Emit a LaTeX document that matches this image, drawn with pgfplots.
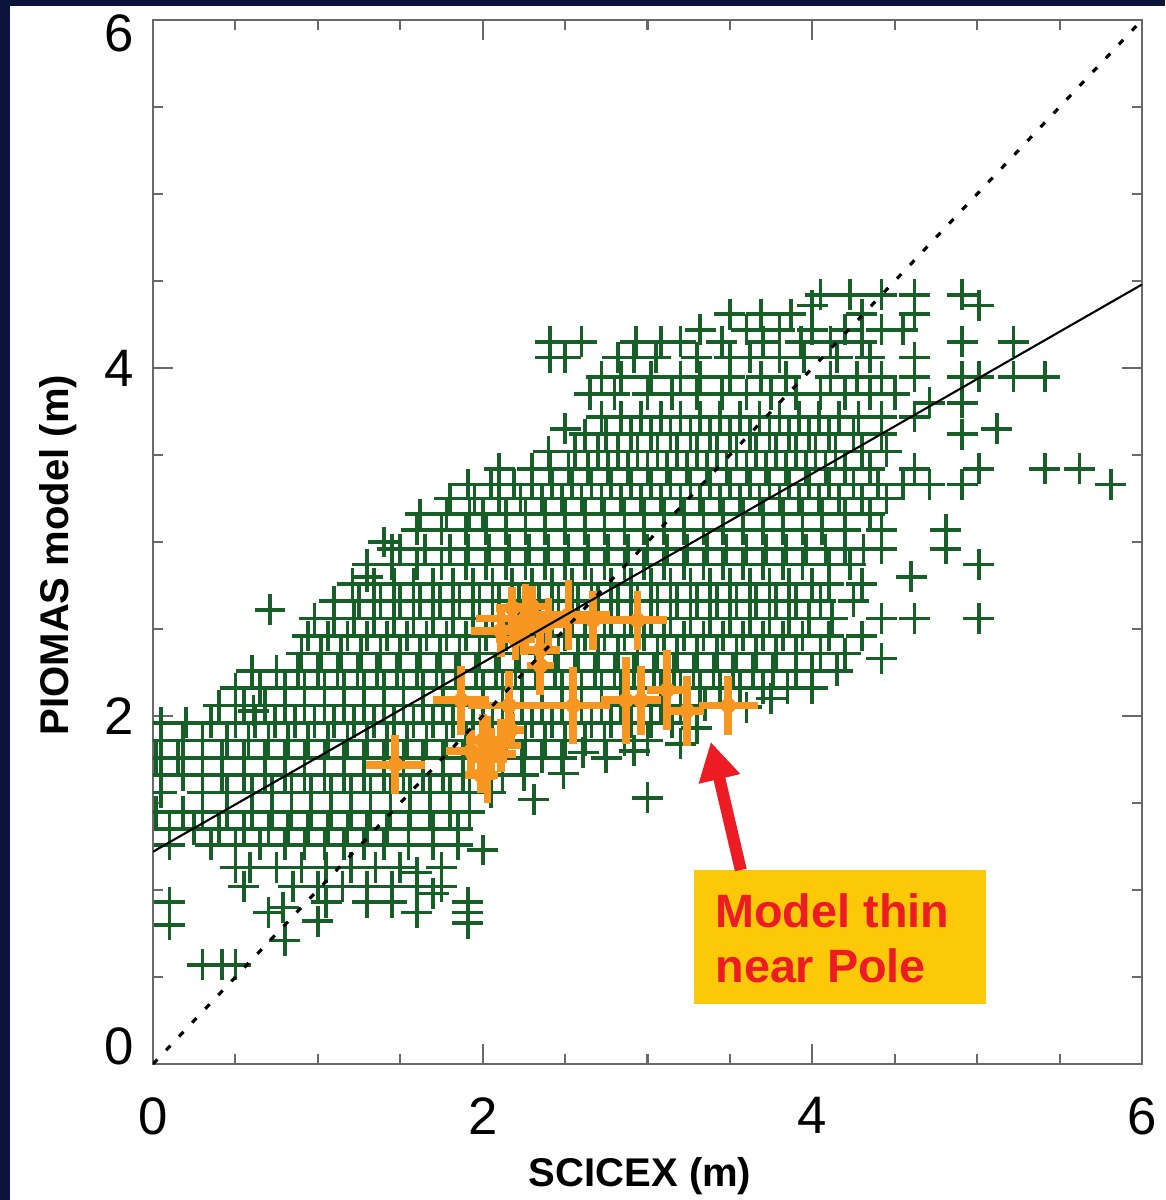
\documentclass[border=0pt]{standalone}
\usepackage{pgfplots}
\pgfplotsset{compat=1.18}
\usepackage{fontspec}
\setmainfont{Liberation Sans}
\usetikzlibrary{arrows.meta}
\definecolor{navy}{RGB}{11,20,58}
\definecolor{pgreen}{RGB}{22,96,40}
\definecolor{porange}{RGB}{247,150,32}
\definecolor{axgray}{RGB}{105,105,105}
\definecolor{boxyellow}{RGB}{252,201,8}
\definecolor{arrred}{RGB}{237,28,36}

% SCICEX error-bar estimates: x y ex ey
\pgfplotstableread{
x    y    ex   ey
2.26 2.56 0.30 0.20
2.52 2.58 0.25 0.20
2.67 2.55 0.18 0.17
2.94 2.55 0.18 0.17
2.11 2.49 0.18 0.15
2.20 2.44 0.12 0.12
2.35 2.38 0.12 0.15
2.35 2.29 0.08 0.17
2.18 2.62 0.10 0.12
2.25 2.50 0.15 0.15
2.40 2.53 0.12 0.15
2.30 2.63 0.10 0.12
1.87 2.09 0.17 0.20
2.16 2.06 0.25 0.20
2.55 2.06 0.22 0.22
2.87 2.09 0.15 0.25
2.96 2.09 0.12 0.20
3.12 2.15 0.12 0.23
3.24 2.03 0.10 0.20
3.49 2.06 0.18 0.17
1.47 1.72 0.18 0.17
2.03 1.75 0.12 0.25
1.93 1.80 0.15 0.12
2.11 1.83 0.12 0.15
1.99 1.66 0.10 0.10
2.17 1.92 0.08 0.10
2.05 1.78 0.15 0.15
2.00 1.86 0.10 0.15
}\orangetab

\begin{document}
\begin{tikzpicture}
\useasboundingbox (-1.53,-1.36) rectangle (10.12,10.64);
\fill[navy] (-1.53,-1.36) rectangle (10.12,10.64);
\fill[white] (-1.43,-1.36) rectangle (10.12,10.58);
\begin{axis}[
  at={(0,0)}, anchor=south west,
  scale only axis, width=9.89cm, height=10.44cm,
  xmin=0, xmax=6, ymin=0, ymax=6,
  xtick={0,2,4,6}, ytick={0,2,4,6},
  yticklabels={\raisebox{0.18cm}[\height][\depth]{0},2,4,\raisebox{-0.13cm}[\height][\depth]{6}},
  minor tick num=3,
  tick align=inside,
  major tick length=0.2cm, minor tick length=0.1cm,
  axis line style={axgray, line width=0.6pt},
  tick style={axgray, line width=0.6pt},
  /pgf/number format/assume math mode=true,
  ticklabel style={font=\fontsize{15}{18}\selectfont, inner sep=0pt},
  xticklabel style={anchor=north, yshift=-0.33cm},
  yticklabel style={anchor=east, xshift=-0.18cm},
  xlabel={SCICEX (m)},
  ylabel={PIOMAS model (m)},
  label style={font=\fontsize{11.4}{14}\selectfont\bfseries},
  xlabel style={at={(axis description cs:0.4925,-0.1178)}, anchor=base},
  ylabel style={at={(axis description cs:-0.0859,0.4875)}, anchor=base},
  clip marker paths=true,
]
\addplot[only marks, mark=+, mark size=4.4pt, color=pgreen, mark options={line width=1.05pt}] coordinates {
(4.05,4.42) (4.23,4.42) (4.42,4.42) (4.62,4.42) (4.91,4.42)
(5.01,4.36) (4.0,4.36)
(3.5,4.31) (3.69,4.31) (3.87,4.31) (4.3,4.31) (4.62,4.31)
(3.32,4.22) (3.6,4.22) (3.8,4.22) (4.0,4.22) (4.2,4.22) (4.42,4.22) (4.55,4.22)
(2.41,4.15) (2.6,4.15) (2.93,4.15) (3.08,4.15) (3.2,4.15) (3.45,4.15) (3.7,4.15) (3.93,4.15) (4.11,4.15) (4.3,4.15) (4.91,4.15) (5.22,4.15)
(2.41,4.06) (2.5,4.06) (2.82,4.06) (2.92,4.06) (3.05,4.06) (3.3,4.06) (3.5,4.06) (3.62,4.06) (3.8,4.06) (3.95,4.06) (4.15,4.06) (4.35,4.06) (4.62,4.06)
(2.72,3.95) (2.84,3.95) (3.02,3.95) (3.2,3.95) (3.32,3.95) (3.5,3.95) (3.69,3.95) (3.84,3.95) (4.11,3.95) (4.27,3.95) (4.42,3.95) (4.62,3.95) (4.91,3.95) (5.01,3.95) (5.22,3.95) (5.41,3.95)
(2.65,3.85) (2.8,3.85) (3.0,3.85) (3.15,3.85) (3.3,3.85) (3.45,3.85) (3.6,3.85) (3.75,3.85) (3.9,3.85) (4.05,3.85) (4.2,3.85) (4.35,3.85) (4.5,3.85)
(4.71,3.8) (4.91,3.8)
(2.72,3.72) (2.84,3.72) (2.96,3.72) (3.08,3.72) (3.2,3.72) (3.32,3.72) (3.44,3.72) (3.56,3.72) (3.68,3.72) (3.8,3.72) (3.92,3.72) (4.04,3.72) (4.16,3.72) (4.28,3.72) (4.42,3.72) (4.62,3.72)
(2.5,3.65) (5.12,3.65)
(2.62,3.62) (2.75,3.62) (2.9,3.62) (3.02,3.62) (3.14,3.62) (3.26,3.62) (3.38,3.62) (3.5,3.62) (3.62,3.62) (3.74,3.62) (3.86,3.62) (3.98,3.62) (4.1,3.62) (4.25,3.62) (4.42,3.62) (4.91,3.62)
(2.4,3.52) (2.56,3.52) (2.7,3.52) (2.82,3.52) (2.94,3.52) (3.06,3.52) (3.18,3.52) (3.3,3.52) (3.42,3.52) (3.54,3.52) (3.66,3.52) (3.78,3.52) (3.9,3.52) (4.02,3.52) (4.14,3.52) (4.3,3.52) (4.45,3.52)
(2.1,3.42) (2.3,3.42) (2.41,3.42) (2.52,3.42) (2.64,3.42) (2.76,3.42) (2.88,3.42) (3.0,3.42) (3.12,3.42) (3.24,3.42) (3.36,3.42) (3.48,3.42) (3.6,3.42) (3.72,3.42) (3.84,3.42) (3.96,3.42) (4.08,3.42) (4.2,3.42) (4.35,3.42) (4.62,3.42) (5.01,3.42) (5.41,3.42) (5.62,3.42)
(1.91,3.33) (2.05,3.33) (2.19,3.33) (2.3,3.33) (2.42,3.33) (2.54,3.33) (2.66,3.33) (2.78,3.33) (2.9,3.33) (3.02,3.33) (3.14,3.33) (3.26,3.33) (3.38,3.33) (3.5,3.33) (3.62,3.33) (3.74,3.33) (3.86,3.33) (3.98,3.33) (4.1,3.33) (4.25,3.33) (4.4,3.33) (4.55,3.33) (4.71,3.33) (4.91,3.33) (5.81,3.33)
(1.8,3.25) (1.95,3.25) (2.1,3.25) (2.23,3.25) (2.36,3.25) (2.48,3.25) (2.6,3.25) (2.72,3.25) (2.84,3.25) (2.96,3.25) (3.08,3.25) (3.2,3.25) (3.32,3.25) (3.44,3.25) (3.56,3.25) (3.68,3.25) (3.8,3.25) (3.92,3.25) (4.04,3.25) (4.16,3.25) (4.3,3.25) (4.45,3.25)
(1.62,3.16) (1.78,3.16) (1.92,3.16) (2.0,3.16) (2.14,3.16) (2.26,3.16) (2.38,3.16) (2.5,3.16) (2.62,3.16) (2.74,3.16) (2.86,3.16) (2.98,3.16) (3.1,3.16) (3.22,3.16) (3.34,3.16) (3.46,3.16) (3.58,3.16) (3.7,3.16) (3.82,3.16) (3.94,3.16) (4.06,3.16) (4.2,3.16) (4.35,3.16)
(1.6,3.07) (1.75,3.07) (1.9,3.07) (2.02,3.07) (2.14,3.07) (2.26,3.07) (2.38,3.07) (2.5,3.07) (2.62,3.07) (2.74,3.07) (2.86,3.07) (2.98,3.07) (3.1,3.07) (3.22,3.07) (3.34,3.07) (3.46,3.07) (3.58,3.07) (3.7,3.07) (3.82,3.07) (3.94,3.07) (4.06,3.07) (4.2,3.07) (4.42,3.07) (4.81,3.07)
(1.4,3.0) (1.45,2.96)
(1.5,2.96) (1.65,2.96) (1.8,2.96) (1.91,2.96) (2.04,2.96) (2.16,2.96) (2.28,2.96) (2.4,2.96) (2.52,2.96) (2.64,2.96) (2.76,2.96) (2.88,2.96) (3.0,2.96) (3.12,2.96) (3.24,2.96) (3.36,2.96) (3.48,2.96) (3.6,2.96) (3.72,2.96) (3.84,2.96) (3.96,2.96) (4.08,2.96) (4.2,2.96) (4.31,2.96) (4.42,2.96) (4.81,2.96)
(1.3,2.87) (1.45,2.87) (1.6,2.87) (1.75,2.87) (1.9,2.87) (2.02,2.87) (2.14,2.87) (2.26,2.87) (2.38,2.87) (2.5,2.87) (2.62,2.87) (2.74,2.87) (2.86,2.87) (2.98,2.87) (3.1,2.87) (3.22,2.87) (3.34,2.87) (3.46,2.87) (3.58,2.87) (3.7,2.87) (3.82,2.87) (3.94,2.87) (4.1,2.87) (4.23,2.87) (5.01,2.87)
(1.3,2.8) (4.6,2.8)
(1.21,2.76) (1.34,2.76) (1.46,2.76) (1.58,2.76) (1.7,2.76) (1.82,2.76) (1.94,2.76) (2.06,2.76) (2.18,2.76) (2.3,2.76) (2.42,2.76) (2.54,2.76) (2.66,2.76) (2.78,2.76) (2.9,2.76) (3.02,2.76) (3.14,2.76) (3.26,2.76) (3.38,2.76) (3.5,2.76) (3.62,2.76) (3.74,2.76) (3.86,2.76) (4.0,2.76) (4.1,2.76) (4.3,2.76)
(1.1,2.66) (1.25,2.66) (1.38,2.66) (1.5,2.66) (1.62,2.66) (1.74,2.66) (1.86,2.66) (1.98,2.66) (2.1,2.66) (2.22,2.66) (2.34,2.66) (2.46,2.66) (2.58,2.66) (2.7,2.66) (2.82,2.66) (2.94,2.66) (3.06,2.66) (3.18,2.66) (3.3,2.66) (3.42,2.66) (3.54,2.66) (3.66,2.66) (3.78,2.66) (3.9,2.66) (4.05,2.66) (4.25,2.66)
(0.71,2.61)
(0.98,2.56) (1.1,2.56) (1.22,2.56) (1.34,2.56) (1.46,2.56) (1.58,2.56) (1.7,2.56) (1.82,2.56) (1.94,2.56) (2.06,2.56) (2.18,2.56) (2.3,2.56) (2.42,2.56) (2.54,2.56) (2.66,2.56) (2.78,2.56) (2.9,2.56) (3.02,2.56) (3.14,2.56) (3.26,2.56) (3.38,2.56) (3.5,2.56) (3.62,2.56) (3.74,2.56) (3.86,2.56) (3.98,2.56) (4.12,2.56) (4.42,2.56) (4.62,2.56) (5.01,2.56)
(0.94,2.46) (1.06,2.46) (1.18,2.46) (1.3,2.46) (1.42,2.46) (1.54,2.46) (1.66,2.46) (1.78,2.46) (1.9,2.46) (2.02,2.46) (2.14,2.46) (2.26,2.46) (2.38,2.46) (2.5,2.46) (2.62,2.46) (2.74,2.46) (2.86,2.46) (2.98,2.46) (3.1,2.46) (3.22,2.46) (3.34,2.46) (3.46,2.46) (3.58,2.46) (3.7,2.46) (3.82,2.46) (3.94,2.46) (4.1,2.46) (4.3,2.46)
(0.9,2.36) (1.02,2.36) (1.14,2.36) (1.26,2.36) (1.38,2.36) (1.5,2.36) (1.62,2.36) (1.74,2.36) (1.86,2.36) (1.98,2.36) (2.1,2.36) (2.22,2.36) (2.34,2.36) (2.46,2.36) (2.58,2.36) (2.7,2.36) (2.82,2.36) (2.94,2.36) (3.06,2.36) (3.18,2.36) (3.3,2.36) (3.42,2.36) (3.54,2.36) (3.66,2.36) (3.78,2.36) (3.9,2.36) (4.05,2.36) (4.2,2.36) (4.42,2.33)
(0.6,2.26) (0.75,2.26) (0.88,2.26) (1.0,2.26) (1.12,2.26) (1.24,2.26) (1.36,2.26) (1.48,2.26) (1.6,2.26) (1.72,2.26) (1.84,2.26) (1.96,2.26) (2.08,2.26) (2.2,2.26) (2.32,2.26) (2.44,2.26) (2.56,2.26) (2.68,2.26) (2.8,2.26) (2.92,2.26) (3.04,2.26) (3.16,2.26) (3.28,2.26) (3.4,2.26) (3.52,2.26) (3.64,2.26) (3.76,2.26) (3.9,2.26) (4.0,2.26) (4.15,2.26)
(0.5,2.16) (0.65,2.16) (0.8,2.16) (0.92,2.16) (1.04,2.16) (1.16,2.16) (1.28,2.16) (1.4,2.16) (1.52,2.16) (1.64,2.16) (1.76,2.16) (1.88,2.16) (2.0,2.16) (2.12,2.16) (2.24,2.16) (2.36,2.16) (2.48,2.16) (2.6,2.16) (2.72,2.16) (2.84,2.16) (2.96,2.16) (3.08,2.16) (3.2,2.16) (3.32,2.16) (3.44,2.16) (3.56,2.16) (3.7,2.16) (3.85,2.16) (4.0,2.16)
(0.4,2.06) (0.55,2.06) (0.68,2.06) (0.8,2.06) (0.92,2.06) (1.04,2.06) (1.16,2.06) (1.28,2.06) (1.4,2.06) (1.52,2.06) (1.64,2.06) (1.76,2.06) (1.88,2.06) (2.0,2.06) (2.12,2.06) (2.24,2.06) (2.36,2.06) (2.48,2.06) (2.6,2.06) (2.72,2.06) (2.84,2.06) (2.96,2.06) (3.08,2.06) (3.2,2.06) (3.35,2.06) (3.6,2.05) (3.75,2.1)
(0.61,2.03)
(0.05,1.96) (0.2,1.96) (0.35,1.96) (0.5,1.96) (0.62,1.96) (0.74,1.96) (0.86,1.96) (0.98,1.96) (1.1,1.96) (1.22,1.96) (1.34,1.96) (1.46,1.96) (1.58,1.96) (1.7,1.96) (1.82,1.96) (1.94,1.96) (2.06,1.96) (2.18,1.96) (2.3,1.96) (2.42,1.96) (2.54,1.96) (2.66,1.96) (2.78,1.96) (2.9,1.96) (3.02,1.96) (3.15,1.96) (3.3,1.93)
(0.05,1.86) (0.18,1.86) (0.3,1.86) (0.45,1.86) (0.58,1.86) (0.7,1.86) (0.82,1.86) (0.94,1.86) (1.06,1.86) (1.18,1.86) (1.3,1.86) (1.42,1.86) (1.54,1.86) (1.66,1.86) (1.78,1.86) (1.9,1.86) (2.02,1.86) (2.14,1.86) (2.26,1.86) (2.38,1.86) (2.5,1.86) (2.62,1.86) (2.74,1.86) (2.86,1.86) (3.0,1.86) (3.2,1.84)
(0.02,1.76) (0.15,1.76) (0.3,1.76) (0.42,1.76) (0.55,1.76) (0.68,1.76) (0.8,1.76) (0.92,1.76) (1.04,1.76) (1.16,1.76) (1.28,1.76) (1.4,1.76) (1.52,1.76) (1.64,1.76) (1.76,1.76) (1.88,1.76) (2.0,1.76) (2.12,1.76) (2.24,1.76) (2.36,1.76) (2.48,1.76) (2.61,1.79) (2.75,1.76) (2.92,1.8)
(0.05,1.66) (0.18,1.66) (0.3,1.66) (0.42,1.66) (0.55,1.66) (0.68,1.66) (0.8,1.66) (0.92,1.66) (1.04,1.66) (1.16,1.66) (1.28,1.66) (1.4,1.66) (1.52,1.66) (1.64,1.66) (1.76,1.66) (1.88,1.66) (2.0,1.66) (2.12,1.66) (2.25,1.66) (2.49,1.67)
(0.05,1.56) (0.3,1.56) (0.45,1.56) (0.6,1.56) (0.72,1.56) (0.84,1.56) (0.96,1.56) (1.08,1.56) (1.2,1.56) (1.32,1.56) (1.44,1.56) (1.56,1.56) (1.68,1.56) (1.8,1.56) (1.92,1.56) (2.05,1.56)
(2.31,1.52) (3.0,1.53)
(0.02,1.45) (0.18,1.45) (0.3,1.45) (0.45,1.45) (0.6,1.45) (0.72,1.45) (0.84,1.45) (0.96,1.45) (1.08,1.45) (1.2,1.45) (1.32,1.45) (1.44,1.45) (1.56,1.45) (1.68,1.45) (1.8,1.45) (1.92,1.45)
(0.1,1.35) (0.25,1.35) (0.4,1.35) (0.55,1.35) (0.7,1.35) (0.82,1.35) (0.94,1.35) (1.06,1.35) (1.18,1.35) (1.3,1.35) (1.42,1.35) (1.55,1.35) (1.7,1.35) (1.85,1.35)
(0.1,1.26) (0.35,1.26) (0.5,1.26) (0.65,1.26) (0.8,1.26) (0.92,1.26) (1.04,1.26) (1.16,1.26) (1.28,1.26) (1.4,1.26) (1.55,1.26) (1.7,1.26) (1.85,1.26)
(2.0,1.23)
(0.5,1.13) (0.59,1.13) (0.75,1.13) (0.9,1.13) (1.05,1.13) (1.2,1.13) (1.35,1.13) (1.5,1.13) (1.6,1.1) (1.75,1.13)
(0.55,1.02) (0.85,1.02) (1.0,1.02) (1.15,1.02) (1.3,1.02) (1.45,1.02) (1.6,1.02) (1.75,1.02)
(0.1,0.93) (0.79,0.9) (1.05,0.93) (1.3,0.93) (1.45,0.93) (1.7,0.98) (1.91,0.93)
(0.7,0.87) (1.6,0.87) (1.91,0.87)
(0.1,0.8) (1.0,0.82) (1.91,0.81)
(0.8,0.71)
(0.3,0.57) (0.42,0.57) (0.5,0.57)
};
\addplot[only marks, mark=none, porange,
  error bars/.cd, x dir=both, x explicit, y dir=both, y explicit, error mark=none,
  error bar style={line width=2.2pt, porange}]
  table[x=x, y=y, x error=ex, y error=ey] {\orangetab};
\addplot[black, line width=0.6pt] coordinates {(0,1.22) (6,4.48)};
\addplot[black, line width=0.9pt, dash pattern=on 1.8pt off 3.6pt] coordinates {(0,0) (6,6)};
\fill[boxyellow] (axis cs:3.28,0.345) rectangle (axis cs:5.055,1.115);
\node[anchor=base west, inner sep=0pt, text=arrred, font=\fontsize{13.3}{16}\selectfont\bfseries] at (axis cs:3.408,0.787) {Model thin};
\node[anchor=base west, inner sep=0pt, text=arrred, font=\fontsize{13.3}{16}\selectfont\bfseries] at (axis cs:3.408,0.466) {near Pole};
\draw[arrred, line width=0.12cm, -{Triangle[length=0.38cm, width=0.4cm]}] (axis cs:3.566,1.115) -- (axis cs:3.384,1.851);
\end{axis}
\end{tikzpicture}
\end{document}
